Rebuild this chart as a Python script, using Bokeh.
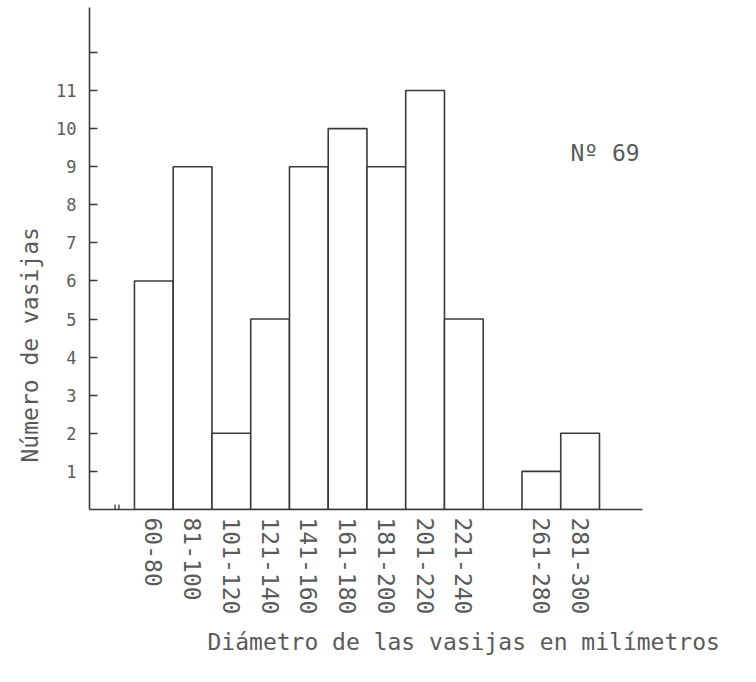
import math
from bokeh.plotting import figure
from bokeh.models import FixedTicker, Range1d, Label, ColumnDataSource, Title
from bokeh.embed import file_html
from bokeh.resources import INLINE

# ---- data ----
bin_labels = ["60-80", "81-100", "101-120", "121-140", "141-160", "161-180",
              "181-200", "201-220", "221-240", "261-280", "281-300"]
bin_start = [60, 80, 100, 120, 140, 160, 180, 200, 220, 260, 280]
bin_end = [80, 100, 120, 140, 160, 180, 200, 220, 240, 280, 300]
counts = [6, 9, 2, 5, 9, 10, 9, 11, 5, 1, 2]
y_ticks = [1, 2, 3, 4, 5, 6, 7, 8, 9, 10, 11, 12]
y_tick_labels = ["1", "2", "3", "4", "5", "6", "7", "8", "9", "10", "11", ""]

FONT = "DejaVu Sans Mono"
INK = "#3a3a3a"
TXT = "#5a5a5a"

centers = [(a + b) // 2 for a, b in zip(bin_start, bin_end)]

p = figure(width=740, height=666, output_backend="svg", toolbar_location=None,
           x_range=Range1d(36.8, 322.2), y_range=Range1d(0, 13.18),
           min_border_left=89, min_border_right=98, min_border_top=7,
           min_border_bottom=157)
p.outline_line_color = None
p.xgrid.visible = False
p.ygrid.visible = False
p.background_fill_color = "white"
p.border_fill_color = "white"

src = ColumnDataSource(dict(left=bin_start, right=bin_end, top=counts,
                            bottom=[0] * len(counts)))
p.quad(left="left", right="right", top="top", bottom="bottom", source=src,
       fill_color="white", line_color=INK, line_width=1.6)

# y axis
ya = p.yaxis[0]
ya.ticker = FixedTicker(ticks=y_ticks)
ya.major_label_overrides = {t: l for t, l in zip(y_ticks, y_tick_labels)}
ya.major_tick_in = 8
ya.major_tick_out = 0
ya.minor_tick_line_color = None
ya.major_tick_line_color = INK
ya.major_tick_line_width = 1.4
ya.axis_line_color = INK
ya.axis_line_width = 1.6
ya.major_label_standoff = 13
ya.major_label_text_font = FONT
ya.major_label_text_font_size = "17px"
ya.major_label_text_color = TXT

# x axis
xa = p.xaxis[0]
xa.ticker = FixedTicker(ticks=centers)
xa.major_label_overrides = {c: l for c, l in zip(centers, bin_labels)}
xa.major_label_orientation = -math.pi / 2
xa.major_tick_in = 0
xa.major_tick_out = 0
xa.minor_tick_line_color = None
xa.axis_line_color = INK
xa.axis_line_width = 1.6
xa.major_label_standoff = 8
xa.major_label_text_font = FONT
xa.major_label_text_font_size = "23px"
xa.major_label_text_color = TXT

# axis titles (offset like the typed original)
p.add_layout(Title(text="Número de vasijas", align="left", offset=47,
                   standoff=22, text_font=FONT, text_font_size="23px",
                   text_font_style="normal", text_color=TXT), "left")
p.add_layout(Title(text="Diámetro de las vasijas en milímetros", align="left",
                   offset=118, standoff=18, text_font=FONT,
                   text_font_size="23px", text_font_style="normal",
                   text_color=TXT), "below")

# axis break marker on the baseline
break_x = [50.0, 52.0]
p.segment(x0=break_x, x1=break_x, y0=[-0.13, -0.13], y1=[0.13, 0.13],
          line_color=INK, line_width=1.3)

p.add_layout(Label(x=285, y=9.37, text="Nº 69", text_font=FONT,
                   text_font_size="23px", text_color=TXT,
                   text_baseline="middle", text_align="left"))

open("out.html", "w").write(file_html(p, INLINE))
